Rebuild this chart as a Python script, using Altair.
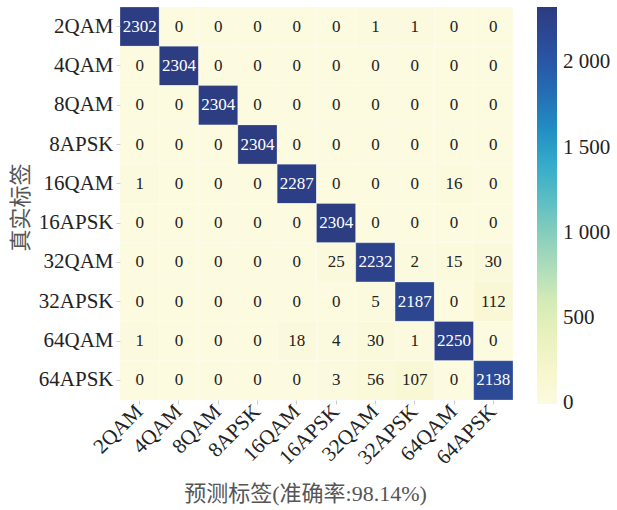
import altair as alt
import pandas as pd

# Modulation classes (true rows, predicted columns)
labels = ["2QAM", "4QAM", "8QAM", "8APSK", "16QAM", "16APSK",
          "32QAM", "32APSK", "64QAM", "64APSK"]

# Confusion-matrix counts, one list per true class
row_2qam = [2302, 0, 0, 0, 0, 0, 1, 1, 0, 0]
row_4qam = [0, 2304, 0, 0, 0, 0, 0, 0, 0, 0]
row_8qam = [0, 0, 2304, 0, 0, 0, 0, 0, 0, 0]
row_8apsk = [0, 0, 0, 2304, 0, 0, 0, 0, 0, 0]
row_16qam = [1, 0, 0, 0, 2287, 0, 0, 0, 16, 0]
row_16apsk = [0, 0, 0, 0, 0, 2304, 0, 0, 0, 0]
row_32qam = [0, 0, 0, 0, 0, 25, 2232, 2, 15, 30]
row_32apsk = [0, 0, 0, 0, 0, 0, 5, 2187, 0, 112]
row_64qam = [1, 0, 0, 0, 18, 4, 30, 1, 2250, 0]
row_64apsk = [0, 0, 0, 0, 0, 3, 56, 107, 0, 2138]

rows = [row_2qam, row_4qam, row_8qam, row_8apsk, row_16qam,
        row_16apsk, row_32qam, row_32apsk, row_64qam, row_64apsk]

legend_ticks = [0, 500, 1000, 1500, 2000]

records = []
for t, row in zip(labels, rows):
    for p, v in zip(labels, row):
        records.append({"true": t, "pred": p, "count": v})
df = pd.DataFrame(records)

FONT = "Liberation Serif, Noto Sans CJK SC"
ylgnbu = ["#fcfadf", "#f3f4c4", "#d8ecb6", "#a3d6bb", "#62c0c3",
          "#2fa6cc", "#2679b8", "#2a52a3", "#2c3b80"]

x_enc = alt.X(
    "pred:N", sort=labels,
    scale=alt.Scale(paddingInner=0, paddingOuter=0),
    axis=alt.Axis(
        title="预测标签(准确率:98.14%)", labelAngle=-45, labelAlign="right",
        labelBaseline="middle", labelFontSize=21, labelPadding=4,
        titleFontSize=22, titleFontWeight="normal", titleX=185, titleY=93,
        titleBaseline="middle", titleAlign="center",
    ),
)
y_enc = alt.Y(
    "true:N", sort=labels,
    scale=alt.Scale(paddingInner=0, paddingOuter=0),
    axis=alt.Axis(
        title="真实标签", labelFontSize=21, labelPadding=3,
        titleFontSize=22, titleFontWeight="normal", titleX=-100, titleY=200,
        titleAngle=270, titleBaseline="middle", titleAlign="center",
    ),
)

heat = alt.Chart(df).mark_rect(
    stroke="#ffffff", strokeOpacity=0.25, strokeWidth=1
).encode(
    x=x_enc,
    y=y_enc,
    color=alt.Color(
        "count:Q",
        scale=alt.Scale(domain=[-5, 2325], range=ylgnbu),
        legend=alt.Legend(
            title=None, orient="right", offset=24, gradientLength=397,
            gradientThickness=20, gradientStrokeWidth=0, values=legend_ticks,
            labelFontSize=21, labelFont=FONT, labelOffset=6,
            labelColor="#222222",
            labelExpr="replace(format(datum.value, ','), ',', ' ')",
        ),
    ),
)

text = alt.Chart(df).mark_text(fontSize=17, font=FONT).encode(
    x=alt.X("pred:N", sort=labels),
    y=alt.Y("true:N", sort=labels),
    text="count:Q",
    color=alt.condition(alt.datum.count > 1200, alt.value("#ffffff"),
                        alt.value("#222222")),
)

chart = (
    (heat + text)
    .properties(
        width=393, height=393,
        autosize=alt.AutoSizeParams(type="none"),
        padding={"left": 120, "top": 7, "right": 104, "bottom": 110},
    )
    .configure(font=FONT, background="white")
    .configure_view(strokeWidth=0)
    .configure_axis(
        domain=False, tickSize=4, tickColor="#cccccc", tickWidth=1,
        labelColor="#222222", titleColor="#555555", labelFont=FONT,
        titleFont=FONT, grid=False,
    )
)

chart.save("out.html", embed_options={"renderer": "svg", "actions": False})
